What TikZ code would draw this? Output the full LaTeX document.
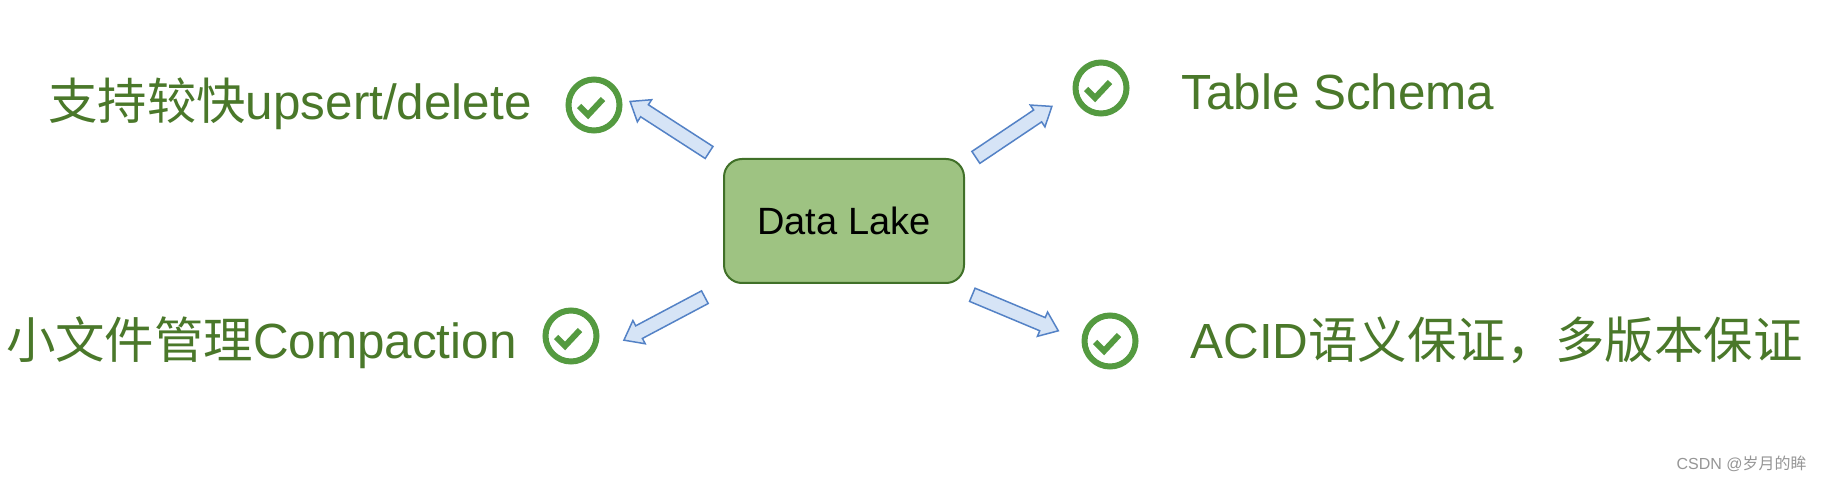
\documentclass[tikz,border=0pt]{standalone}
\usepackage{fontspec}
\setmainfont{Liberation Sans}
\newfontfamily\cjk{Noto Sans CJK SC}
\usetikzlibrary{shapes.arrows,calc}

\definecolor{lakefill}{RGB}{158,195,130}
\definecolor{lakedraw}{RGB}{64,112,40}
\definecolor{okgreen}{RGB}{84,154,64}
\definecolor{textgreen}{RGB}{74,120,42}
\definecolor{arrowfill}{RGB}{214,228,246}
\definecolor{arrowdraw}{RGB}{84,130,198}
\definecolor{markgray}{RGB}{150,150,150}

\begin{document}
\begin{tikzpicture}[x=0.5pt,y=-0.5pt,
	lake/.style={draw=lakedraw,fill=lakefill,line width=1pt,rounded corners=9pt,minimum width=120pt,minimum height=62pt,font=\fontsize{19}{22}\selectfont},
	feature/.style={text=textgreen,inner sep=0pt,font=\fontsize{24.7}{29}\selectfont},
	okring/.style={circle,draw=okgreen,line width=3pt,minimum size=25.5pt,inner sep=0pt},
	okmark/.style={draw=okgreen,line width=3pt},
	fatarrow/.style={single arrow,draw=arrowdraw,fill=arrowfill,line width=0.75pt,inner sep=3.2pt,single arrow head extend=3pt,single arrow tip angle=75,single arrow head indent=0pt}]
	\fill[white] (0,0) rectangle (1824,480);
	\useasboundingbox (0,0) rectangle (1824,480);
	\node[lake] (lake) at (844,221) {Data Lake};
	% features
	\node[feature,anchor=base east] (upsert) at (532,120) {{\cjk 支持较快}upsert/delete};
	\node[feature,anchor=base east] (compact) at (517,358) {{\cjk 小文件管理}Compaction};
	\node[feature,anchor=base west] (schema) at (1181,110) {Table Schema};
	\node[feature,anchor=base west] (acid) at (1190,358) {ACID{\cjk 语义保证，多版本保证}};
	% check marks
	\node[okring] (ok1) at (594,105) {};
	\node[okring] (ok2) at (571,336) {};
	\node[okring] (ok3) at (1101,88) {};
	\node[okring] (ok4) at (1110,341) {};
	\foreach \c in {ok1,ok2,ok3,ok4}
		\draw[okmark] (\c.center) ++(-15,1) -- ++(9,9) -- ++(15,-16);
	% arrows
	\coordinate (up1) at (713,155);
	\coordinate (up2) at (634,104);
	\coordinate (cp1) at (709,295);
	\coordinate (cp2) at (628,338);
	\coordinate (sc1) at (972,160);
	\coordinate (sc2) at (1048,109);
	\coordinate (ac1) at (968,293);
	\coordinate (ac2) at (1054,329);
	\foreach \from/\to in {up1/up2,cp1/cp2,sc1/sc2,ac1/ac2}
		\path let \p1=($(\to)-(\from)$), \n1={atan2(\y1,\x1)}, \n2={veclen(\x1,\y1)} in
			($(\from)!0.5!(\to)$) node[fatarrow,rotate=\n1,minimum height=\n2] {};
	\node[anchor=base east,inner sep=0pt,text=markgray,font=\fontsize{8}{10}\selectfont] (mark) at (1807,469) {CSDN @{\cjk 岁月的眸}};
\end{tikzpicture}
\end{document}
